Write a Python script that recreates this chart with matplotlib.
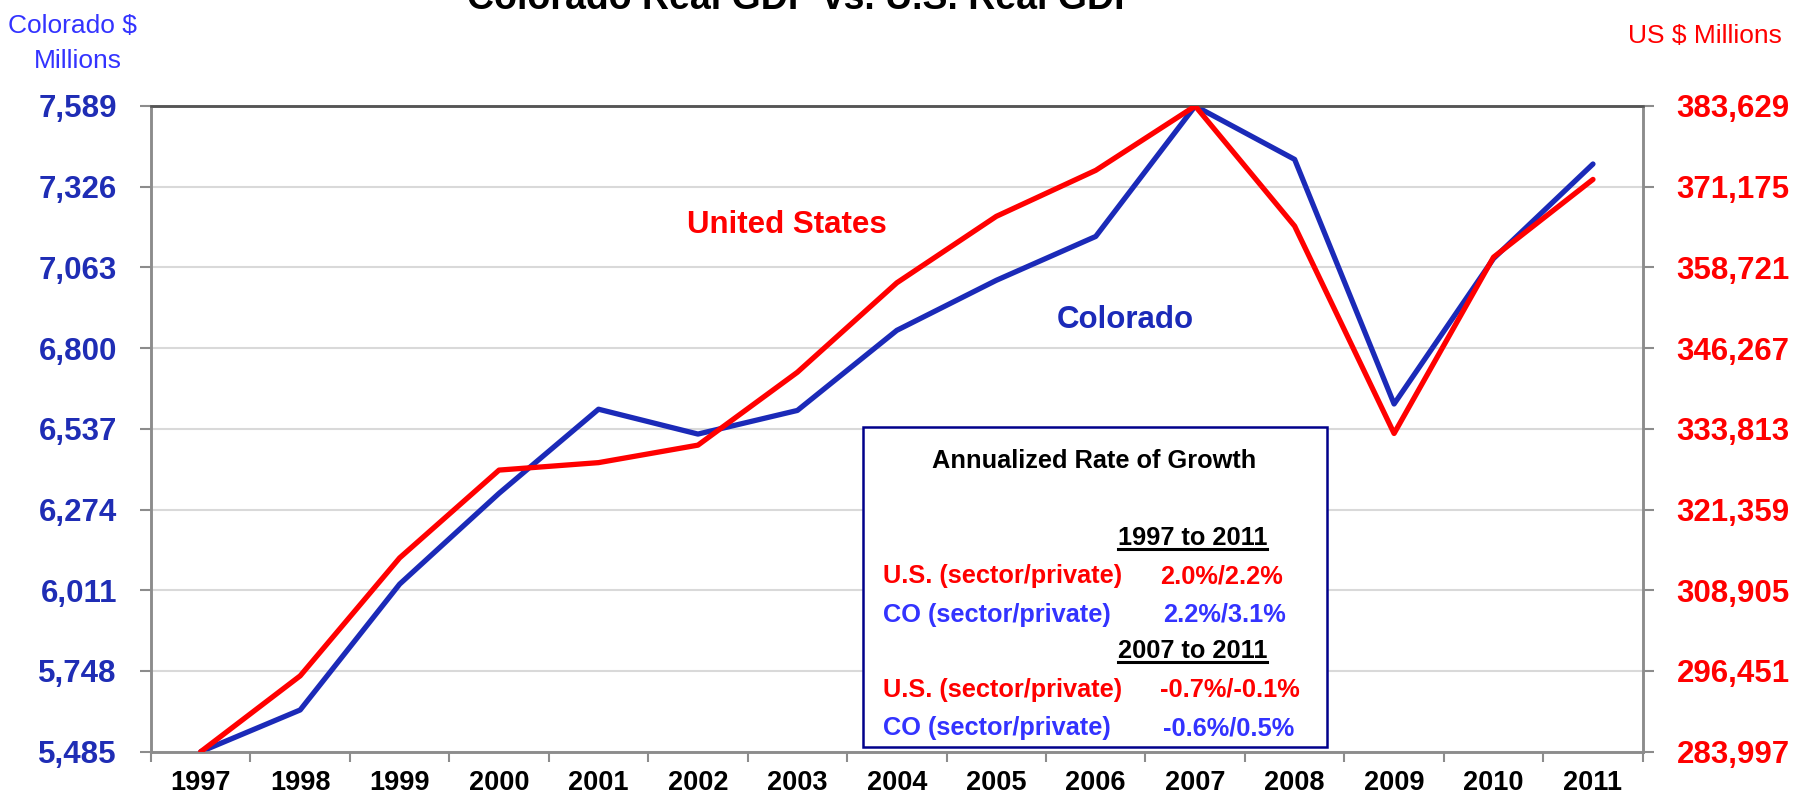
import numpy as np
import matplotlib
matplotlib.use("Agg")
import matplotlib.pyplot as plt
from matplotlib.patches import Rectangle
from matplotlib.lines import Line2D

# data
years = ["1997", "1998", "1999", "2000", "2001", "2002", "2003", "2004",
         "2005", "2006", "2007", "2008", "2009", "2010", "2011"]
colorado = [5485, 5621, 6031, 6327, 6601, 6520, 6597, 6858, 7021, 7164,
            7589, 7415, 6618, 7092, 7400]
us = [283997, 295700, 313900, 327450, 328600, 331300, 342550, 356350,
      366600, 373700, 383629, 365100, 333100, 360300, 372300]
co_ticks = [5485, 5748, 6011, 6274, 6537, 6800, 7063, 7326, 7589]
us_ticks = [283997, 296451, 308905, 321359, 333813, 346267, 358721, 371175, 383629]

box_title = "Annualized Rate of Growth"
box_periods = ["1997 to 2011", "2007 to 2011"]
box_rows = [("U.S. (sector/private)", "2.0%/2.2%"),
            ("CO (sector/private)", "2.2%/3.1%"),
            ("U.S. (sector/private)", "-0.7%/-0.1%"),
            ("CO (sector/private)", "-0.6%/0.5%")]

W, H = 1798, 799
# no narrow face installed, so plain Arial-metric font at reduced sizes
FONT = ["Liberation Sans", "DejaVu Sans"]
BLUE_LINE = "#1B2AB8"
BLUE_TXT = "#3333FF"
RED = "#FF0000"
GRAY = "#8C8C8C"


def fx(px):
  return px / float(W)


def fy(py):
  return 1.0 - py / float(H)


def main():
  fig = plt.figure(figsize=(W / 100.0, H / 100.0), dpi=100)
  ax = fig.add_axes([fx(151), fy(751.7), fx(1642.7) - fx(151), fy(106) - fy(751.7)])
  ax2 = ax.twinx()

  x = np.arange(len(years))
  ax.plot(x, colorado, color=BLUE_LINE, lw=3.8, solid_capstyle="round",
          solid_joinstyle="round", zorder=3)
  ax2.plot(x, us, color=RED, lw=3.8, solid_capstyle="round",
           solid_joinstyle="round", zorder=3)

  ax.set_xlim(-0.5, len(years) - 0.5)
  ax.set_ylim(co_ticks[0], co_ticks[-1])
  ax2.set_ylim(us_ticks[0], us_ticks[-1])

  # y axes
  ax.set_yticks(co_ticks)
  ax.set_yticklabels(["{:,}".format(v) for v in co_ticks])
  ax2.set_yticks(us_ticks)
  ax2.set_yticklabels(["{:,}".format(v) for v in us_ticks])
  for a, col in ((ax, "#1F2DB5"), (ax2, RED)):
    a.tick_params(axis="y", length=8, width=1.5, color=GRAY, pad=16.5,
                  labelcolor=col)
    for lab in a.get_yticklabels():
      lab.set_family(FONT)
      lab.set_fontweight("bold")
      lab.set_fontsize(22.5)

  # x axis: labels at centres, tick marks at boundaries
  ax.set_xticks(x)
  ax.set_xticklabels(years)
  ax.set_xticks(np.arange(len(years) + 1) - 0.5, minor=True)
  ax.tick_params(axis="x", which="major", length=0, pad=13)
  ax.tick_params(axis="x", which="minor", length=7, width=1.5, color=GRAY)
  for lab in ax.get_xticklabels():
    lab.set_family(FONT)
    lab.set_fontweight("bold")
    lab.set_fontsize(19.5)

  ax.grid(axis="y", color="#D9D9D9", lw=1.5)
  ax.set_axisbelow(True)
  for a in (ax, ax2):
    for s in ("left", "right", "bottom"):
      a.spines[s].set_color(GRAY)
      a.spines[s].set_linewidth(1.8)
    a.spines["top"].set_color("#555555")
    a.spines["top"].set_linewidth(1.8)

  # titles and axis captions
  fig.text(fx(803), fy(9), "Colorado Real GDP vs. U.S. Real GDP", ha="center",
           va="baseline", family=FONT, fontweight="bold", fontsize=27)
  fig.text(fx(72), fy(33), "Colorado $", ha="center", va="baseline",
           family=FONT, fontsize=19, color=BLUE_TXT)
  fig.text(fx(78), fy(68), "Millions", ha="center", va="baseline",
           family=FONT, fontsize=19, color=BLUE_TXT)
  fig.text(fx(1782), fy(43), "US $ Millions", ha="right", va="baseline",
           family=FONT, fontsize=19, color=RED)

  # series names on the chart
  fig.text(fx(787), fy(233), "United States", ha="center", va="baseline",
           family=FONT, fontweight="bold", fontsize=22.5, color=RED)
  fig.text(fx(1125), fy(328), "Colorado", ha="center", va="baseline",
           family=FONT, fontweight="bold", fontsize=22.5, color=BLUE_LINE)

  # growth box
  fig.add_artist(Rectangle((fx(862.7), fy(746.7)), fx(1326.7) - fx(862.7),
                           fy(427.3) - fy(746.7), transform=fig.transFigure,
                           facecolor="white", edgecolor="#00008B", lw=1.8,
                           zorder=5))
  kw = dict(family=FONT, fontweight="bold", fontsize=18.3, va="baseline",
            zorder=6)
  fig.text(fx(1094.5), fy(468), box_title, ha="center", color="black", **kw)

  renderer = fig.canvas.get_renderer()
  for period, base in zip(box_periods, (545, 658.3)):
    t = fig.text(fx(1267), fy(base), period, ha="right", color="black", **kw)
    bb = t.get_window_extent(renderer)
    fig.add_artist(Line2D([bb.x0 / W, bb.x1 / W], [fy(base + 4), fy(base + 4)],
                          transform=fig.transFigure, color="black", lw=2.2,
                          zorder=6))

  bases = [583.3, 621.7, 696.7, 735]
  for (name, val), base in zip(box_rows, bases):
    col = RED if name.startswith("U.S.") else BLUE_TXT
    vx = 1160 if col == RED else 1163
    fig.text(fx(883), fy(base), name, ha="left", color=col, **kw)
    fig.text(fx(vx), fy(base), val, ha="left", color=col, **kw)

  fig.savefig("out.png", dpi=100)


if __name__ == "__main__":
  main()
